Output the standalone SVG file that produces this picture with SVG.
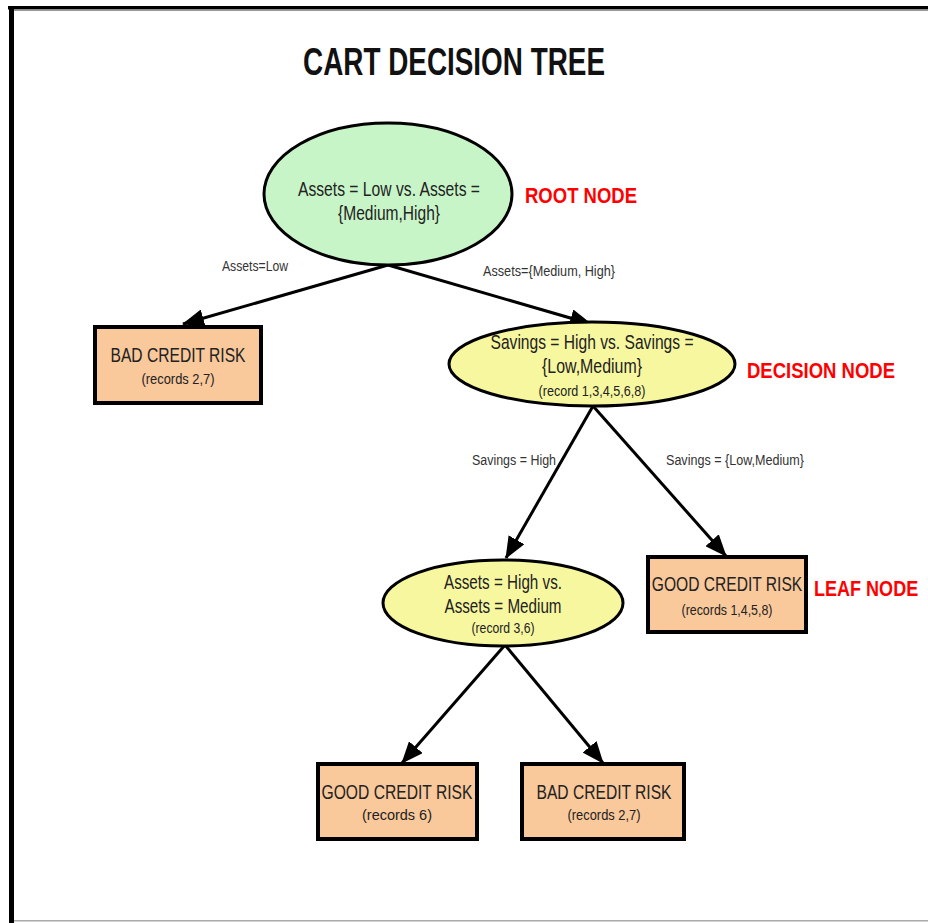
<svg xmlns="http://www.w3.org/2000/svg" width="928" height="923" viewBox="0 0 928 923">
<style>
text{font-family:"Liberation Sans",Arial,sans-serif;fill:#222;text-anchor:middle}
.t{font-size:20px}
.s{font-size:14px}
.lbl{font-size:14px;fill:#333}
.red{font-size:22px;font-weight:bold;fill:#ff0000;text-anchor:start}
.box{fill:#f9c89b;stroke:#000;stroke-width:4}
.conn line{stroke:#000;stroke-width:3}
</style>
<defs>
<marker id="ah" markerUnits="userSpaceOnUse" markerWidth="22" markerHeight="18" refX="21" refY="9" orient="auto">
<path d="M0,0 L22,9 L0,18 z" fill="#000"/>
</marker>
</defs>
<rect width="928" height="923" fill="#fff"/>
<g id="frame">
<rect x="8" y="6" width="920" height="3.5" fill="#000"/>
<rect x="12" y="9.5" width="916" height="1.5" fill="#999"/>
<rect x="9" y="6" width="5" height="917" fill="#000"/>
<rect x="14" y="920" width="914" height="1.5" fill="#aaa"/>
</g>
<text x="454" y="75" style="font-size:38px;font-weight:bold;fill:#111" textLength="302" lengthAdjust="spacingAndGlyphs">CART DECISION TREE</text>
<g id="connectors" class="conn">
<line x1="388" y1="265" x2="183" y2="324" marker-end="url(#ah)"/>
<line x1="388" y1="265" x2="591" y2="324" marker-end="url(#ah)"/>
<line x1="593" y1="406" x2="506" y2="558" marker-end="url(#ah)"/>
<line x1="593" y1="406" x2="726" y2="556" marker-end="url(#ah)"/>
<line x1="505" y1="645" x2="402" y2="763" marker-end="url(#ah)"/>
<line x1="505" y1="645" x2="603" y2="763" marker-end="url(#ah)"/>
</g>
<g id="edge-labels">
<text class="lbl" x="255" y="271" textLength="66" lengthAdjust="spacingAndGlyphs">Assets=Low</text>
<text class="lbl" x="549" y="276" textLength="132" lengthAdjust="spacingAndGlyphs">Assets={Medium, High}</text>
<text class="lbl" x="514" y="465" textLength="84" lengthAdjust="spacingAndGlyphs">Savings = High</text>
<text class="lbl" x="735" y="465" textLength="138" lengthAdjust="spacingAndGlyphs">Savings = {Low,Medium}</text>
</g>
<g id="root">
<ellipse cx="388" cy="194" rx="124" ry="71" fill="#c8f5c8" stroke="#000" stroke-width="3"/>
<text class="t" x="389" y="196" textLength="182" lengthAdjust="spacingAndGlyphs">Assets = Low vs. Assets =</text>
<text class="t" x="389" y="220" textLength="102" lengthAdjust="spacingAndGlyphs">{Medium,High}</text>
</g>
<text class="red" x="525" y="203" textLength="112" lengthAdjust="spacingAndGlyphs">ROOT NODE</text>
<g id="leaf-bad-1">
<rect class="box" x="95" y="327" width="166" height="76"/>
<text class="t" x="178" y="362" textLength="135" lengthAdjust="spacingAndGlyphs">BAD CREDIT RISK</text>
<text class="s" x="178" y="384" textLength="73" lengthAdjust="spacingAndGlyphs">(records 2,7)</text>
</g>
<g id="decision">
<ellipse cx="592" cy="364" rx="143" ry="42" fill="#f7f7a0" stroke="#000" stroke-width="3"/>
<text class="t" x="592" y="349" textLength="203" lengthAdjust="spacingAndGlyphs">Savings = High vs. Savings =</text>
<text class="t" x="592" y="373" textLength="100" lengthAdjust="spacingAndGlyphs">{Low,Medium}</text>
<text class="s" x="592" y="396" textLength="107" lengthAdjust="spacingAndGlyphs">(record 1,3,4,5,6,8)</text>
</g>
<text class="red" x="747" y="378" textLength="148" lengthAdjust="spacingAndGlyphs">DECISION NODE</text>
<g id="decision-2">
<ellipse cx="503" cy="603" rx="120" ry="43" fill="#f7f7a0" stroke="#000" stroke-width="3"/>
<text class="t" x="503" y="589" textLength="118" lengthAdjust="spacingAndGlyphs">Assets = High vs.</text>
<text class="t" x="503" y="613" textLength="117" lengthAdjust="spacingAndGlyphs">Assets = Medium</text>
<text class="s" x="503" y="633" textLength="63" lengthAdjust="spacingAndGlyphs">(record 3,6)</text>
</g>
<g id="leaf-good-1">
<rect class="box" x="648" y="557" width="158" height="75"/>
<text class="t" transform="translate(727,591) scale(0.78,1)" x="0" y="0">GOOD CREDIT RISK</text>
<text class="s" x="727" y="615" textLength="91" lengthAdjust="spacingAndGlyphs">(records 1,4,5,8)</text>
</g>
<text class="red" transform="translate(814,596) scale(0.82,1)" x="0" y="0">LEAF NODE</text>
<g id="leaf-good-2">
<rect class="box" x="318" y="764" width="159" height="75"/>
<text class="t" x="397" y="799" textLength="151" lengthAdjust="spacingAndGlyphs">GOOD CREDIT RISK</text>
<text class="s" x="397" y="820" textLength="70" lengthAdjust="spacingAndGlyphs">(records 6)</text>
</g>
<g id="leaf-bad-2">
<rect class="box" x="522" y="764" width="162" height="75"/>
<text class="t" x="604" y="799" textLength="135" lengthAdjust="spacingAndGlyphs">BAD CREDIT RISK</text>
<text class="s" x="604" y="820" textLength="73" lengthAdjust="spacingAndGlyphs">(records 2,7)</text>
</g>
</svg>
